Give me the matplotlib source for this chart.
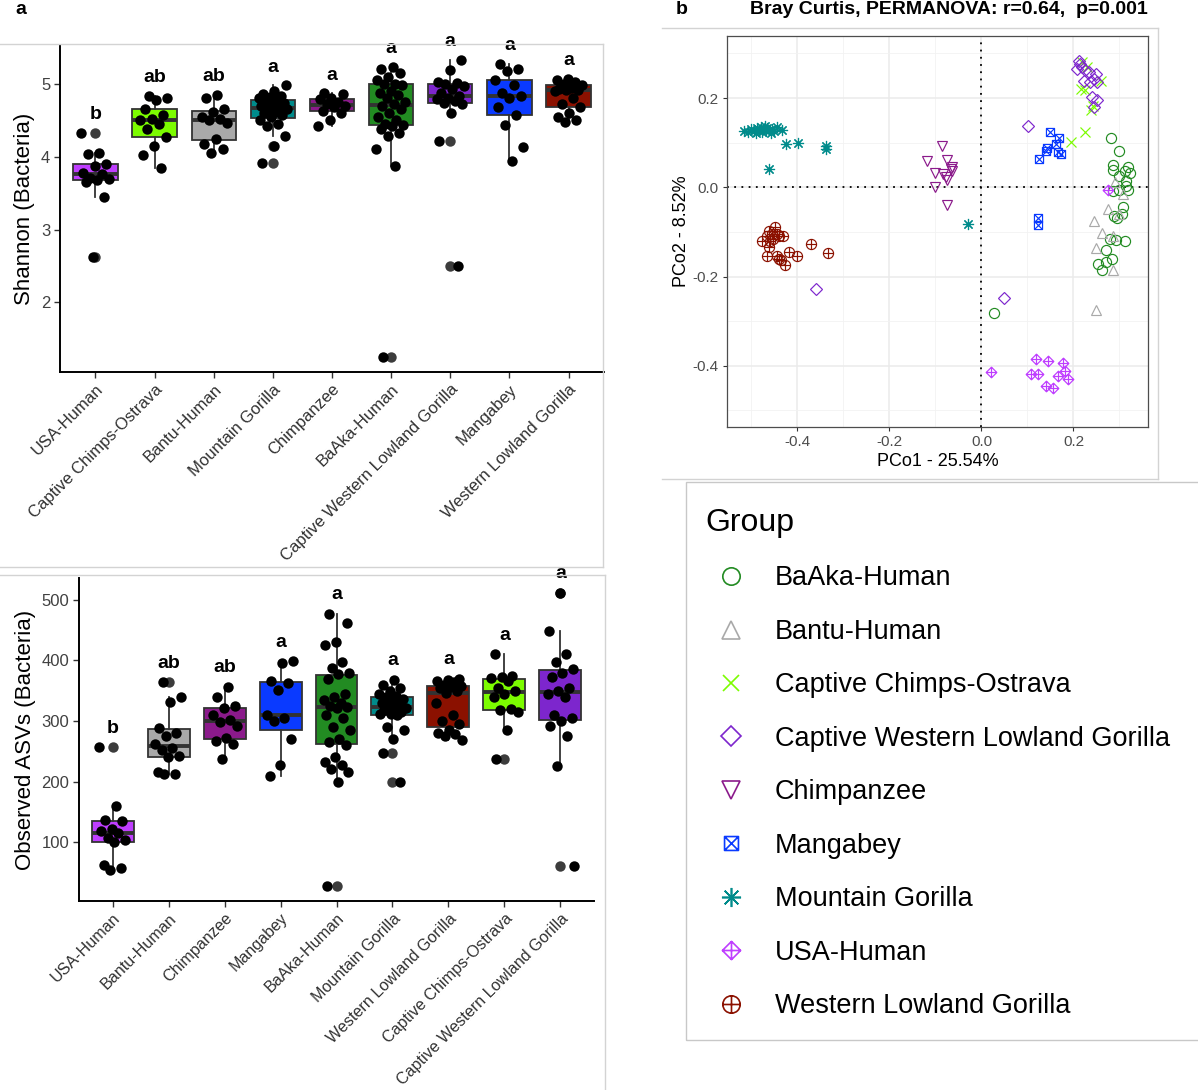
import numpy as np
import matplotlib.pyplot as plt
from matplotlib.path import Path
from matplotlib.lines import Line2D
from matplotlib.patches import Rectangle

plt.rcParams['font.family'] = ['Liberation Sans', 'DejaVu Sans']

W, H = 1198, 1090

# ---------------- alpha diversity: Shannon ----------------
shannon_groups = ['USA-Human', 'Captive Chimps-Ostrava', 'Bantu-Human', 'Mountain Gorilla',
                  'Chimpanzee', 'BaAka-Human', 'Captive Western Lowland Gorilla',
                  'Mangabey', 'Western Lowland Gorilla']
shannon_letters = ['b', 'ab', 'ab', 'a', 'a', 'a', 'a', 'a', 'a']
shannon_usa = [4.33, 4.05, 4.04, 3.90, 3.87, 3.78, 3.76, 3.71, 3.70, 3.68, 3.66, 3.45, 2.62]
shannon_cco = [4.84, 4.81, 4.78, 4.65, 4.58, 4.52, 4.50, 4.45, 4.38, 4.27, 4.15, 4.02, 3.84]
shannon_bantu = [4.85, 4.80, 4.66, 4.62, 4.55, 4.52, 4.50, 4.47, 4.24, 4.18, 4.10, 4.05]
shannon_mg = [4.98, 4.90, 4.86, 4.84, 4.82, 4.80, 4.78, 4.76, 4.74, 4.72, 4.70, 4.68,
              4.67, 4.65, 4.62, 4.60, 4.57, 4.55, 4.50, 4.45, 4.42, 4.28, 4.15, 3.91]
shannon_chimp = [4.87, 4.86, 4.81, 4.79, 4.75, 4.72, 4.70, 4.68, 4.63, 4.60, 4.50, 4.42]
shannon_baaka = [5.23, 5.20, 5.15, 5.10, 5.05, 5.00, 5.00, 4.99, 4.90, 4.88, 4.85, 4.80, 4.75, 4.73,
                 4.70, 4.65, 4.60, 4.55, 4.50, 4.45, 4.44, 4.42, 4.38, 4.32, 4.28, 4.10, 3.88, 1.25]
shannon_cwlg = [5.33, 5.19, 5.02, 5.01, 5.00, 4.97, 4.93, 4.88, 4.84, 4.80, 4.79, 4.76, 4.74,
                4.72, 4.60, 4.22, 2.50]
shannon_mang = [5.27, 5.20, 5.18, 5.05, 4.98, 4.87, 4.83, 4.80, 4.68, 4.57, 4.44, 4.14, 3.94]
shannon_wlg = [5.07, 5.05, 5.03, 5.00, 4.98, 4.95, 4.93, 4.92, 4.91, 4.90, 4.80, 4.72, 4.68,
               4.60, 4.55, 4.50, 4.48]
shannon_values = [shannon_usa, shannon_cco, shannon_bantu, shannon_mg, shannon_chimp,
                  shannon_baaka, shannon_cwlg, shannon_mang, shannon_wlg]

# ---------------- alpha diversity: observed ASVs ----------------
asv_groups = ['USA-Human', 'Bantu-Human', 'Chimpanzee', 'Mangabey', 'BaAka-Human',
              'Mountain Gorilla', 'Western Lowland Gorilla', 'Captive Chimps-Ostrava',
              'Captive Western Lowland Gorilla']
asv_letters = ['b', 'ab', 'ab', 'a', 'a', 'a', 'a', 'a', 'a']
asv_usa = [257, 160, 137, 135, 122, 118, 115, 106, 104, 101, 62, 57, 54]
asv_bantu = [364, 340, 332, 289, 280, 276, 262, 256, 252, 242, 240, 216, 213, 212]
asv_chimp = [357, 340, 325, 321, 310, 302, 298, 292, 272, 267, 262, 238]
asv_mang = [399, 396, 366, 362, 352, 310, 305, 300, 270, 228, 209]
asv_baaka = [477, 462, 430, 425, 398, 388, 380, 378, 370, 345, 340, 335, 330, 325, 324, 322,
             310, 305, 290, 285, 270, 265, 260, 240, 232, 228, 220, 215, 200, 27]
asv_mg = [368, 360, 355, 350, 345, 342, 340, 336, 333, 330, 328, 326, 322, 320, 318, 315,
          312, 311, 310, 290, 285, 270, 248, 200]
asv_wlg = [370, 368, 366, 365, 359, 358, 357, 355, 350, 347, 330, 310, 300, 295, 285, 280,
           278, 275, 268]
asv_cco = [410, 374, 372, 371, 366, 355, 350, 345, 340, 320, 318, 315, 285, 238]
asv_cwlg = [512, 448, 410, 398, 386, 380, 372, 355, 350, 345, 340, 310, 305, 300, 292, 275,
            225, 60]
asv_values = [asv_usa, asv_bantu, asv_chimp, asv_mang, asv_baaka, asv_mg, asv_wlg, asv_cco,
              asv_cwlg]

# ---------------- PCoA (Bray Curtis) ----------------
pc_baaka_x = [0.282, 0.300, 0.285, 0.287, 0.300, 0.312, 0.319, 0.323, 0.314, 0.315, 0.300, 0.319,
              0.285, 0.308, 0.305, 0.289, 0.294, 0.312, 0.293, 0.280, 0.271, 0.283, 0.271, 0.254,
              0.262, 0.028]
pc_baaka_y = [0.110, 0.082, 0.049, 0.039, 0.026, 0.037, 0.046, 0.031, 0.015, 0.004, -0.007, -0.007,
              -0.009, -0.043, -0.060, -0.064, -0.069, -0.121, -0.118, -0.116, -0.141, -0.161,
              -0.168, -0.171, -0.186, -0.281]
pc_bantu_x = [0.291, 0.308, 0.274, 0.245, 0.263, 0.285, 0.249, 0.285, 0.249, 0.300]
pc_bantu_y = [0.011, -0.015, -0.049, -0.075, -0.103, -0.108, -0.135, -0.186, -0.275, -0.060]
pc_cco_x = [0.195, 0.224, 0.217, 0.226, 0.239, 0.242, 0.230, 0.259, 0.219]
pc_cco_y = [0.101, 0.123, 0.221, 0.218, 0.174, 0.183, 0.270, 0.239, 0.281]
pc_cwlg_x = [0.211, 0.215, 0.218, 0.226, 0.208, 0.233, 0.248, 0.245, 0.222, 0.235, 0.252, 0.241,
             0.252, 0.245, 0.101, -0.359, 0.048]
pc_cwlg_y = [0.284, 0.277, 0.269, 0.262, 0.265, 0.258, 0.254, 0.243, 0.239, 0.236, 0.236, 0.202,
             0.195, 0.180, 0.138, -0.228, -0.247]
pc_chimp_x = [-0.086, -0.119, -0.074, -0.102, -0.083, -0.066, -0.064, -0.076, -0.074, -0.102,
              -0.074, -0.063]
pc_chimp_y = [0.092, 0.058, 0.061, 0.031, 0.030, 0.041, 0.036, 0.022, 0.016, 0.000, -0.039, 0.045]
pc_mang_x = [0.148, 0.168, 0.161, 0.142, 0.140, 0.126, 0.166, 0.172, 0.122, 0.122]
pc_mang_y = [0.123, 0.111, 0.097, 0.088, 0.082, 0.064, 0.079, 0.075, -0.069, -0.084]
pc_mg_x = [-0.515, -0.508, -0.500, -0.495, -0.490, -0.487, -0.483, -0.480, -0.477, -0.473, -0.470,
           -0.468, -0.465, -0.462, -0.458, -0.455, -0.450, -0.445, -0.434, -0.425, -0.398, -0.338,
           -0.337, -0.461, -0.029]
pc_mg_y = [0.127, 0.125, 0.130, 0.126, 0.122, 0.132, 0.128, 0.135, 0.124, 0.130, 0.138, 0.126,
           0.133, 0.129, 0.121, 0.131, 0.127, 0.135, 0.128, 0.097, 0.100, 0.092, 0.085, 0.041,
           -0.083]
pc_usa_x = [0.021, 0.118, 0.144, 0.177, 0.107, 0.122, 0.140, 0.155, 0.166, 0.181, 0.189, 0.274]
pc_usa_y = [-0.413, -0.385, -0.389, -0.393, -0.419, -0.418, -0.445, -0.450, -0.423, -0.412,
            -0.430, -0.006]
pc_wlg_x = [-0.478, -0.467, -0.461, -0.456, -0.449, -0.445, -0.440, -0.432, -0.461, -0.467, -0.445,
            -0.441, -0.436, -0.426, -0.419, -0.400, -0.370, -0.333, -0.452, -0.460]
pc_wlg_y = [-0.120, -0.108, -0.097, -0.105, -0.090, -0.105, -0.109, -0.109, -0.133, -0.153, -0.153,
            -0.161, -0.163, -0.174, -0.146, -0.155, -0.126, -0.147, -0.116, -0.120]

legend_groups = ['BaAka-Human', 'Bantu-Human', 'Captive Chimps-Ostrava',
                 'Captive Western Lowland Gorilla', 'Chimpanzee', 'Mangabey',
                 'Mountain Gorilla', 'USA-Human', 'Western Lowland Gorilla']
pcoa_x = [pc_baaka_x, pc_bantu_x, pc_cco_x, pc_cwlg_x, pc_chimp_x, pc_mang_x, pc_mg_x, pc_usa_x, pc_wlg_x]
pcoa_y = [pc_baaka_y, pc_bantu_y, pc_cco_y, pc_cwlg_y, pc_chimp_y, pc_mang_y, pc_mg_y, pc_usa_y, pc_wlg_y]

colors = {
    'BaAka-Human': '#228B22',
    'Bantu-Human': '#A9A9A9',
    'Captive Chimps-Ostrava': '#7CFC00',
    'Captive Western Lowland Gorilla': '#7D26CD',
    'Chimpanzee': '#8B1A8B',
    'Mangabey': '#0A3AFF',
    'Mountain Gorilla': '#008B8B',
    'USA-Human': '#BF3EFF',
    'Western Lowland Gorilla': '#8B1100',
}


# ggplot-like compound point shapes
def compound(parts):
    verts, codes = [], []
    for p in parts:
        verts += p[0]
        codes += p[1]
    return Path(verts, codes)


M, L, C = Path.MOVETO, Path.LINETO, Path.CLOSEPOLY
sq_cross = compound([
    ([(-1, -1), (1, -1), (1, 1), (-1, 1), (-1, -1)], [M, L, L, L, C]),
    ([(-1, -1), (1, 1)], [M, L]), ([(-1, 1), (1, -1)], [M, L])])
dia_plus = compound([
    ([(0, -1), (1, 0), (0, 1), (-1, 0), (0, -1)], [M, L, L, L, C]),
    ([(0, -1), (0, 1)], [M, L]), ([(-1, 0), (1, 0)], [M, L])])
circ = Path.unit_circle()
circ_plus = compound([
    (list(map(tuple, circ.vertices)), list(circ.codes)),
    ([(0, -1), (0, 1)], [M, L]), ([(-1, 0), (1, 0)], [M, L])])

shapes = {
    'BaAka-Human': ('o', 1.0),
    'Bantu-Human': ('^', 1.05),
    'Captive Chimps-Ostrava': ('x', 0.9),
    'Captive Western Lowland Gorilla': ('D', 0.85),
    'Chimpanzee': ('v', 1.05),
    'Mangabey': (sq_cross, 0.8),
    'Mountain Gorilla': ((8, 2, 0), 1.1),
    'USA-Human': (dia_plus, 1.05),
    'Western Lowland Gorilla': (circ_plus, 1.0),
}


def px_box(l, t, r, b):
    return [l / W, 1 - b / H, (r - l) / W, (b - t) / H]


def fig_line(x0, y0, x1, y1, color='#D3D3D3'):
    fig.add_artist(Line2D([x0 / W, x1 / W], [1 - y0 / H, 1 - y1 / H], color=color, lw=1.0))


def alpha_panel(ax, groups, values, letters, ylabel, yticks, letter_off, xfont):
    n = len(groups)
    pos = np.arange(n)
    bp = ax.boxplot(values, positions=pos, widths=0.75, patch_artist=True, whis=1.5,
                    showcaps=False, manage_ticks=False,
                    boxprops=dict(edgecolor='#333333', linewidth=1.3),
                    whiskerprops=dict(color='#333333', linewidth=1.3),
                    medianprops=dict(color='#333333', linewidth=2.8),
                    flierprops=dict(marker='o', markerfacecolor='#3C3C3C',
                                    markeredgecolor='none', markersize=7.5))
    for patch, g in zip(bp['boxes'], groups):
        patch.set_facecolor(colors[g])
    # jittered samples on top of the boxes
    for i, vals in enumerate(values):
        k = np.arange(len(vals))
        jit = ((k * 0.6180339887 + 0.31 * i) % 1.0 - 0.5) * 0.5
        ax.plot(i + jit, vals, 'o', color='black', ms=7.5, mec='none', zorder=4)
        ax.text(i, max(vals) + letter_off, letters[i], ha='center', va='baseline',
                fontsize=14, fontweight='bold', clip_on=False, zorder=5)
    lo = min(min(v) for v in values)
    hi = max(max(v) for v in values)
    pad = (hi - lo) * 0.05
    ax.set_ylim(lo - pad, hi + pad)
    ax.set_xlim(-0.6, n - 0.4)
    ax.set_xticks(pos)
    ax.set_xticklabels(groups, rotation=45, ha='right', va='top', rotation_mode='anchor',
                       fontsize=xfont, color='#303030')
    ax.set_yticks(yticks)
    ax.tick_params(axis='y', labelsize=12, labelcolor='#404040')
    ax.tick_params(direction='out', length=4, width=1, color='#333333', pad=3)
    ax.set_ylabel(ylabel, fontsize=16, labelpad=4)
    for s in ['top', 'right']:
        ax.spines[s].set_visible(False)
    for s in ['left', 'bottom']:
        ax.spines[s].set_linewidth(1.4)
        ax.spines[s].set_color('black')


fig = plt.figure(figsize=(W / 100, H / 100), dpi=100)

# panel a, top: Shannon
ax1 = fig.add_axes(px_box(60, 45, 604, 372))
alpha_panel(ax1, shannon_groups, shannon_values, shannon_letters, 'Shannon (Bacteria)',
            [2, 3, 4, 5], 0.19, 12)

# panel a, bottom: observed ASVs
ax2 = fig.add_axes(px_box(79, 578, 594, 901))
alpha_panel(ax2, asv_groups, asv_values, asv_letters, 'Observed ASVs (Bacteria)',
            [100, 200, 300, 400, 500], 24, 11.6)

# panel b: PCoA
ax3 = fig.add_axes(px_box(727, 36, 1148, 427))
ax3.set_xlim(-0.553, 0.362)
ax3.set_ylim(-0.537, 0.339)
ax3.set_xticks([-0.4, -0.2, 0.0, 0.2])
ax3.set_yticks([-0.4, -0.2, 0.0, 0.2])
ax3.set_xticks([-0.5, -0.3, -0.1, 0.1, 0.3], minor=True)
ax3.set_yticks([-0.5, -0.3, -0.1, 0.1, 0.3], minor=True)
ax3.grid(which='major', color='#EBEBEB', lw=1.1)
ax3.grid(which='minor', color='#F2F2F2', lw=0.6)
ax3.set_axisbelow(True)
ax3.tick_params(which='minor', length=0)
ax3.tick_params(which='major', length=3, width=0.8, color='#333333', labelsize=11,
                labelcolor='#4D4D4D', pad=3)
ax3.xaxis.set_major_formatter(plt.FuncFormatter(lambda v, p: f'{v:.1f}'))
ax3.yaxis.set_major_formatter(plt.FuncFormatter(lambda v, p: f'{v:.1f}'))
for s in ax3.spines.values():
    s.set_color('#4D4D4D')
    s.set_linewidth(0.9)
ax3.axhline(0, color='black', ls=(0, (1, 3)), lw=1.3, zorder=1)
ax3.axvline(0, color='black', ls=(0, (1, 3)), lw=1.3, zorder=1)
for g, xs, ys in zip(legend_groups, pcoa_x, pcoa_y):
    m, scale = shapes[g]
    ax3.plot(xs, ys, ls='none', marker=m, ms=7.3 * scale, mfc='none', mec=colors[g],
             mew=0.85, zorder=3)
ax3.set_xlabel('PCo1 - 25.54%', fontsize=13, labelpad=3)
ax3.set_ylabel('PCo2 - 8.52%', fontsize=13, labelpad=2)

# legend
handles = []
for g in legend_groups:
    m, scale = shapes[g]
    handles.append(Line2D([], [], ls='none', marker=m, ms=12.5 * scale, mfc='none',
                          mec=colors[g], mew=1.2))
leg = fig.legend(handles, legend_groups, loc='upper left', bbox_to_anchor=(705 / W, 1 - 508 / H),
                 frameon=False, title='Group', fontsize=19.5, title_fontsize=23,
                 alignment='left', handlelength=1.95, handletextpad=0.62, labelspacing=1.015,
                 borderpad=0, borderaxespad=0)
fig.add_artist(Rectangle((686 / W, 1 - 1040 / H), (1210 - 686) / W, (1040 - 482) / H,
                         transform=fig.transFigure, fill=False, edgecolor='#C8C8C8', lw=1.0))

# panel letters and title
fig.text(15 / W, 1 - 10 / H, 'a', fontsize=14, fontweight='bold', ha='left', va='center')
fig.text(676 / W, 1 - 10 / H, 'b', fontsize=14, fontweight='bold', ha='left', va='center')
fig.text(949 / W, 1 - 10 / H, 'Bray Curtis, PERMANOVA: r=0.64,  p=0.001', fontsize=14,
         fontweight='bold', ha='center', va='center')

# light frames around the sub-figures
fig_line(0, 44, 603, 44)
fig_line(603, 44, 603, 567)
fig_line(0, 567, 603, 567)
fig_line(0, 575, 605, 575)
fig_line(605, 575, 605, 1090)
fig_line(662, 28, 1158, 28)
fig_line(1158, 28, 1158, 479)
fig_line(662, 479, 1158, 479)

fig.savefig('out.png', dpi=100)
